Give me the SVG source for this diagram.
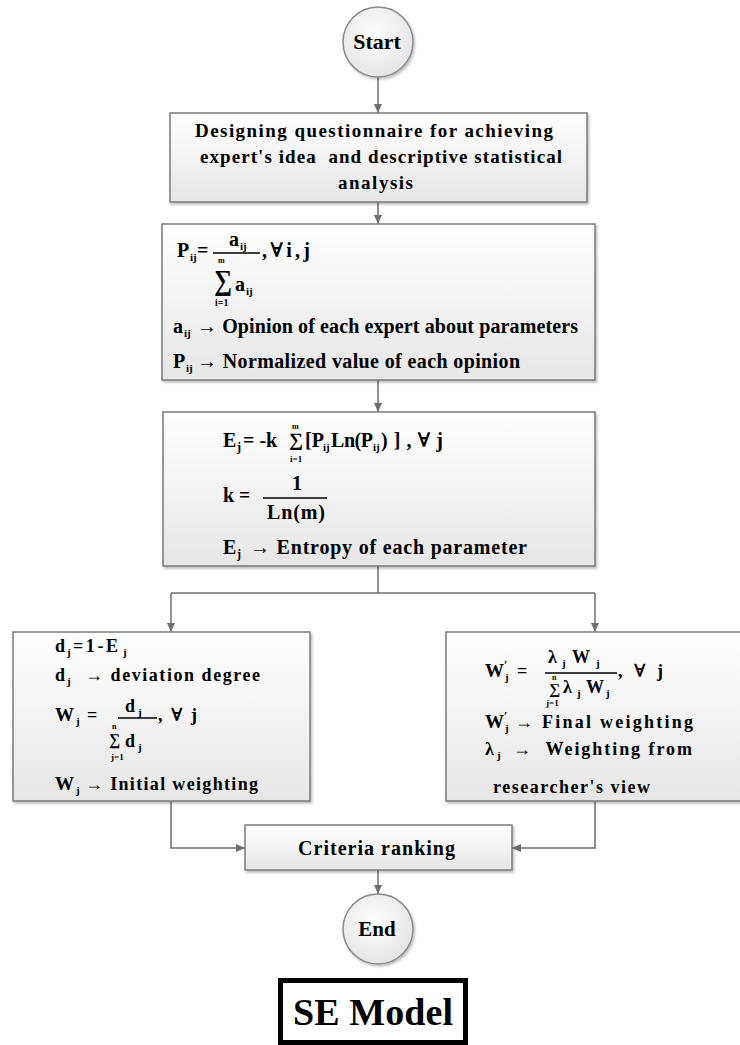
<svg xmlns="http://www.w3.org/2000/svg" width="740" height="1045" viewBox="0 0 740 1045">
<defs>
<style>
.t{font-family:"Liberation Serif","Times New Roman","DejaVu Serif",serif;font-weight:bold;fill:#000}
.box{fill:url(#gb);stroke:#7a7a7a;stroke-width:1.5;filter:url(#sh)}
.circ{fill:url(#gc);stroke:#8a8a8a;stroke-width:1.5;filter:url(#sh)}
.conn{stroke:#6e6e6e;stroke-width:1.5;fill:none}
.bar{stroke:#000;stroke-width:1.3}
</style>
<linearGradient id="gb" x1="0" y1="0" x2="0" y2="1">
<stop offset="0" stop-color="#ffffff"/>
<stop offset="1" stop-color="#e6e6e6"/>
</linearGradient>
<radialGradient id="gc" cx="0.45" cy="0.4" r="0.65">
<stop offset="0" stop-color="#ffffff"/>
<stop offset="1" stop-color="#e2e2e2"/>
</radialGradient>
<filter id="sh" x="-5%" y="-5%" width="115%" height="125%">
<feDropShadow dx="1.5" dy="2" stdDeviation="1.2" flood-color="#000" flood-opacity="0.25"/>
</filter>
<marker id="ah" markerUnits="userSpaceOnUse" markerWidth="10" markerHeight="10" refX="9" refY="4" orient="auto">
<path d="M0,0 L9,4 L0,8 z" fill="#6e6e6e"/>
</marker>
</defs>
<rect width="740" height="1045" fill="#fff"/>

<g id="connectors">
<path class="conn" d="M378,77 V113" marker-end="url(#ah)"/>
<path class="conn" d="M378,202 V224" marker-end="url(#ah)"/>
<path class="conn" d="M378,380 V412" marker-end="url(#ah)"/>
<path class="conn" d="M378,566 V593"/>
<path class="conn" d="M171,593 H595"/>
<path class="conn" d="M171,593 V632" marker-end="url(#ah)"/>
<path class="conn" d="M595,593 V632" marker-end="url(#ah)"/>
<path class="conn" d="M171,801 V848 H245" marker-end="url(#ah)"/>
<path class="conn" d="M595,801 V848 H512" marker-end="url(#ah)"/>
<path class="conn" d="M378,870 V894" marker-end="url(#ah)"/>
</g>

<g id="start">
<circle class="circ" cx="378" cy="42" r="35"/>
<text class="t" x="377" y="49" font-size="22" text-anchor="middle">Start</text>
</g>

<g id="questionnaire">
<rect class="box" x="170" y="113" width="417" height="89"/>
<text class="t" x="195" y="137" font-size="19" textLength="358" lengthAdjust="spacing">Designing questionnaire for achieving</text>
<text class="t" x="200" y="163" font-size="19" textLength="362" lengthAdjust="spacing">expert's idea&#160; and descriptive statistical</text>
<text class="t" x="338" y="189" font-size="19" textLength="75" lengthAdjust="spacing">analysis</text>
</g>

<g id="normalize">
<rect class="box" x="162" y="224" width="433" height="156"/>
<text class="t" x="177" y="257" font-size="20">P</text>
<text class="t" x="190" y="261" font-size="11">ij</text>
<text class="t" x="197" y="257" font-size="20">=</text>
<text class="t" x="229" y="246" font-size="20">a</text>
<text class="t" x="240" y="250" font-size="11">ij</text>
<line class="bar" x1="213" y1="253" x2="260" y2="253"/>
<text class="t" x="262" y="257" font-size="20" textLength="48" lengthAdjust="spacing">,∀i,j</text>
<text class="t" x="218" y="263" font-size="8">m</text>
<text class="t" x="214" y="290" font-size="29" textLength="18" lengthAdjust="spacingAndGlyphs">∑</text>
<text class="t" x="235" y="291" font-size="20">a</text>
<text class="t" x="246" y="295" font-size="11">ij</text>
<text class="t" x="215" y="306" font-size="10">i=1</text>
<text class="t" x="173" y="333" font-size="20">a</text>
<text class="t" x="184" y="337" font-size="11">ij</text>
<text class="t" x="197" y="333" font-size="20" textLength="381" lengthAdjust="spacing">→ Opinion of each expert about parameters</text>
<text class="t" x="173" y="368" font-size="20">P</text>
<text class="t" x="186" y="372" font-size="11">ij</text>
<text class="t" x="197" y="368" font-size="20" textLength="323" lengthAdjust="spacing">→ Normalized value of each opinion</text>
</g>

<g id="entropy">
<rect class="box" x="163" y="412" width="432" height="154"/>
<text class="t" x="223" y="447" font-size="20">E</text>
<text class="t" x="237" y="451" font-size="12">j</text>
<text class="t" x="243" y="447" font-size="20">= -k</text>
<text class="t" x="292" y="429" font-size="8">m</text>
<text class="t" x="289" y="446" font-size="19" textLength="14" lengthAdjust="spacingAndGlyphs">∑</text>
<text class="t" x="290" y="462" font-size="9">i=1</text>
<text class="t" x="305" y="447" font-size="20">[P</text>
<text class="t" x="323" y="451" font-size="11">ij</text>
<text class="t" x="331" y="447" font-size="20" textLength="42" lengthAdjust="spacing">Ln(P</text>
<text class="t" x="373" y="451" font-size="11">ij</text>
<text class="t" x="381" y="447" font-size="20" textLength="62" lengthAdjust="spacing">)],∀j</text>
<text class="t" x="223" y="502" font-size="20">k =</text>
<text class="t" x="292" y="490" font-size="20">1</text>
<line class="bar" x1="263" y1="498" x2="327" y2="498"/>
<text class="t" x="267" y="519" font-size="20" textLength="58" lengthAdjust="spacing">Ln(m)</text>
<text class="t" x="223" y="554" font-size="20">E</text>
<text class="t" x="237" y="558" font-size="12">j</text>
<text class="t" x="250" y="554" font-size="20" textLength="277" lengthAdjust="spacing">→ Entropy of each parameter</text>
</g>

<g id="initial-weighting">
<rect class="box" x="13" y="632" width="297" height="169"/>
<text class="t" x="55" y="652" font-size="18">d</text>
<text class="t" x="67" y="656" font-size="11">j</text>
<text class="t" x="73" y="652" font-size="18" textLength="45" lengthAdjust="spacing">=1-E</text>
<text class="t" x="123" y="656" font-size="11">j</text>
<text class="t" x="55" y="681" font-size="18">d</text>
<text class="t" x="67" y="685" font-size="11">j</text>
<text class="t" x="85" y="681" font-size="18" textLength="175" lengthAdjust="spacing">→ deviation degree</text>
<text class="t" x="55" y="721" font-size="19">W</text>
<text class="t" x="76" y="725" font-size="11">j</text>
<text class="t" x="87" y="721" font-size="18">=</text>
<text class="t" x="125" y="712" font-size="18">d</text>
<text class="t" x="138" y="716" font-size="11">j</text>
<line class="bar" x1="118" y1="718" x2="157" y2="718"/>
<text class="t" x="158" y="721" font-size="18" textLength="39" lengthAdjust="spacing">,∀j</text>
<text class="t" x="112" y="729" font-size="8">n</text>
<text class="t" x="109" y="745" font-size="16" textLength="11" lengthAdjust="spacingAndGlyphs">∑</text>
<text class="t" x="125" y="747" font-size="18">d</text>
<text class="t" x="138" y="751" font-size="11">j</text>
<text class="t" x="111" y="760" font-size="9">j=1</text>
<text class="t" x="55" y="790" font-size="19">W</text>
<text class="t" x="76" y="794" font-size="11">j</text>
<text class="t" x="85" y="790" font-size="18" textLength="173" lengthAdjust="spacing">→ Initial weighting</text>
</g>

<g id="final-weighting">
<rect class="box" x="446" y="632" width="300" height="169"/>
<text class="t" x="485" y="677" font-size="19">W</text>
<text class="t" x="504" y="669" font-size="12">′</text>
<text class="t" x="505" y="681" font-size="11">j</text>
<text class="t" x="517" y="677" font-size="18">=</text>
<text class="t" x="548" y="663" font-size="18">λ</text>
<text class="t" x="562" y="667" font-size="11">j</text>
<text class="t" x="572" y="663" font-size="18">W</text>
<text class="t" x="596" y="667" font-size="11">j</text>
<line class="bar" x1="545" y1="673" x2="617" y2="673"/>
<text class="t" x="618" y="677" font-size="18" textLength="45" lengthAdjust="spacing">, ∀ j</text>
<text class="t" x="552" y="680" font-size="8">n</text>
<text class="t" x="549" y="694" font-size="15" textLength="11" lengthAdjust="spacingAndGlyphs">∑</text>
<text class="t" x="563" y="693" font-size="18">λ</text>
<text class="t" x="577" y="697" font-size="11">j</text>
<text class="t" x="586" y="693" font-size="18">W</text>
<text class="t" x="606" y="697" font-size="11">j</text>
<text class="t" x="546" y="706" font-size="9">j=1</text>
<text class="t" x="485" y="728" font-size="19">W</text>
<text class="t" x="504" y="720" font-size="12">′</text>
<text class="t" x="505" y="732" font-size="11">j</text>
<text class="t" x="515" y="728" font-size="18" textLength="178" lengthAdjust="spacing">→ Final weighting</text>
<text class="t" x="485" y="755" font-size="18">λ</text>
<text class="t" x="497" y="759" font-size="11">j</text>
<text class="t" x="513" y="755" font-size="18" textLength="179" lengthAdjust="spacing">→&#160; Weighting from</text>
<text class="t" x="493" y="793" font-size="18" textLength="157" lengthAdjust="spacing">researcher's view</text>
</g>

<g id="ranking">
<rect class="box" x="245" y="825" width="267" height="45"/>
<text class="t" x="298" y="855" font-size="20" textLength="157" lengthAdjust="spacing">Criteria ranking</text>
</g>

<g id="end">
<circle class="circ" cx="378" cy="929" r="35"/>
<text class="t" x="377" y="936" font-size="21" text-anchor="middle">End</text>
</g>

<g id="title">
<rect x="280.5" y="980.5" width="185" height="62" fill="#fff" stroke="#000" stroke-width="5"/>
<text class="t" x="373" y="1025" font-size="38" text-anchor="middle" textLength="160" lengthAdjust="spacing">SE Model</text>
</g>
</svg>
